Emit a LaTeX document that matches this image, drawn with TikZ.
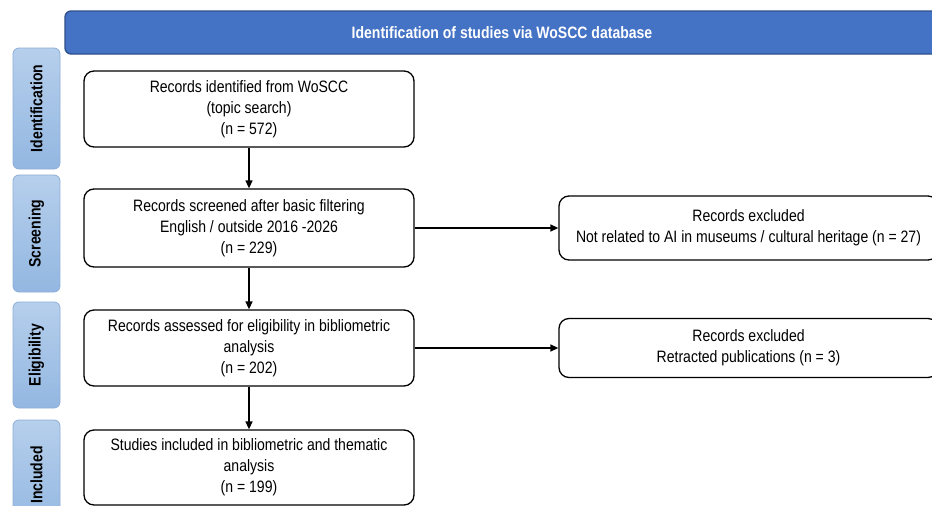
\documentclass[tikz,border=0pt]{standalone}
\usepackage{fontspec}
\setmainfont[FakeStretch=0.85]{Liberation Sans}
\usepackage{tikz}
\usetikzlibrary{arrows.meta,positioning,calc}
\definecolor{bannerblue}{HTML}{4472C4}
\definecolor{bannerline}{HTML}{2F4F8A}
\definecolor{phasetop}{HTML}{B6CFEC}
\definecolor{phasebot}{HTML}{93B7E1}
\definecolor{phaseline}{HTML}{8EADD8}

\begin{document}
\begin{tikzpicture}[
    x=1pt, y=-1pt,
    box/.style={rectangle, draw, line width=1.3pt, rounded corners=10pt,
                align=center, inner sep=0pt, font=\fontsize{16.5}{21}\selectfont},
    phase/.style={rectangle, draw=phaseline, line width=0.8pt, rounded corners=6pt,
                  top color=phasetop, bottom color=phasebot, rotate=90,
                  minimum height=47pt, inner sep=0pt,
                  font=\fontsize{16.5}{18}\selectfont\bfseries},
    arr/.style={-{Triangle[length=8pt,width=7pt]}, line width=1.3pt},
  ]
  \useasboundingbox (0,0) rectangle (932,506);
  \clip (0,0) rectangle (932,506);

  % Banner across the top
  \node[rectangle, draw=bannerline, fill=bannerblue, line width=1.3pt,
        rounded corners=6pt, minimum width=874pt, minimum height=43pt,
        text=white, font=\fontsize{16.5}{18}\selectfont\bfseries] (banner)
        at (502,32.5) {Identification of studies via WoSCC database};

  % Phase labels on the left
  \node[phase, minimum width=121pt] (pid)  at (36.5,108.5) {Identification};
  \node[phase, minimum width=117pt] (pscr) at (36.5,233.5) {Screening};
  \node[phase, minimum width=106pt] (pel)  at (36.5,355)   {Eligibility};
  \node[phase, minimum width=110pt] (pinc) at (36.5,475)   {Included};

  % Main flow
  \node[box, minimum width=330pt, minimum height=76pt] (ident) at (249,109)
    {Records identified from WoSCC\\(topic search)\\(n = 572)};
  \node[box, minimum width=330pt, minimum height=78pt] (screen) at (249,228)
    {Records screened after basic filtering\\English / outside 2016 -2026\\(n = 229)};
  \node[box, minimum width=330pt, minimum height=76pt] (elig) at (249,348)
    {Records assessed for eligibility in bibliometric\\analysis\\(n = 202)};
  \node[box, minimum width=330pt, minimum height=75pt] (incl) at (249,467.5)
    {Studies included in bibliometric and thematic\\analysis\\(n = 199)};

  % Exclusions on the right
  \node[box, minimum width=379pt, minimum height=64pt] (excl1) at (748.5,228)
    {Records excluded\\Not related to AI in museums / cultural heritage (n = 27)};
  \node[box, minimum width=379pt, minimum height=59pt] (excl2) at (748.5,348)
    {Records excluded\\Retracted publications (n = 3)};

  \draw[arr] (ident) -- (screen);
  \draw[arr] (screen) -- (elig);
  \draw[arr] (elig) -- (incl);
  \draw[arr] (screen) -- (excl1);
  \draw[arr] (elig) -- (excl2);
\end{tikzpicture}
\end{document}
